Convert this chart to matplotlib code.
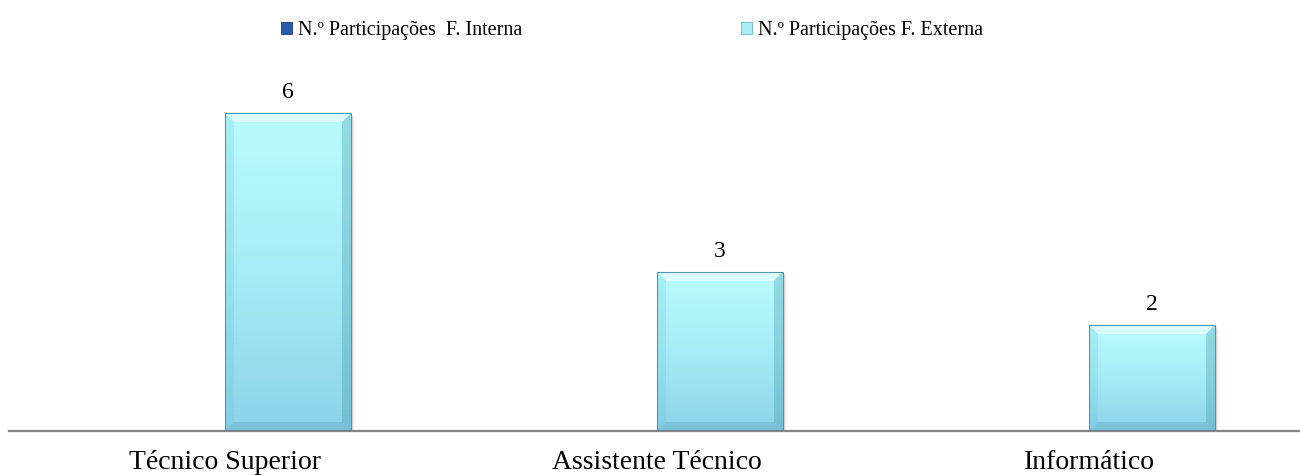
import numpy as np
import matplotlib
matplotlib.use("Agg")
import matplotlib.pyplot as plt
from matplotlib.patches import Patch, Polygon, Rectangle
from matplotlib.colors import LinearSegmentedColormap

categories = ["Técnico Superior", "Assistente Técnico", "Informático"]
internal = [0, 0, 0]
external = [6, 3, 2]
series_names = ["N.º Participações  F. Interna", "N.º Participações F. Externa"]

plt.rcParams["font.family"] = ["Liberation Serif", "DejaVu Serif"]

W, H = 1300, 476
fig = plt.figure(figsize=(W / 100, H / 100), dpi=100)
ax = fig.add_axes([9 / W, 45 / H, 1291 / W, 371 / H])
ax.set_xlim(0, 1291 / 432)
ax.set_ylim(0, 7)

bar_w = 126 / 432
px_x = 1 / 432          # data units per pixel, horizontal
px_y = 7 / 371          # data units per pixel, vertical

grad = LinearSegmentedColormap.from_list("bar", ["#8ed4ea", "#a6ecf6", "#b8fcfe"])


def bevel_bar(x0, h):
    x1 = x0 + bar_w
    # soft drop shadow
    for k, a in enumerate([0.10, 0.07, 0.04]):
        ax.add_patch(Rectangle((x0 + (2 + k) * px_x, -(2 + k) * px_y), bar_w, h,
                               facecolor="#555555", alpha=a, lw=0, zorder=1))
    img = np.linspace(0, 1, 64).reshape(-1, 1)
    ax.imshow(img, cmap=grad, origin="lower", aspect="auto",
              extent=(x0, x1, 0, h), zorder=2, interpolation="bilinear")
    bx, by = 9 * px_x, 9 * px_y
    # top highlight
    ax.add_patch(Polygon([(x0, h), (x1, h), (x1 - bx, h - by), (x0 + bx, h - by)],
                         closed=True, facecolor="white", alpha=0.5, lw=0, zorder=3))
    # right shade
    ax.add_patch(Polygon([(x1, h), (x1, 0), (x1 - bx, by), (x1 - bx, h - by)],
                         closed=True, facecolor="#3c8fa8", alpha=0.3, lw=0, zorder=3))
    # left shade
    ax.add_patch(Polygon([(x0, h), (x0, 0), (x0 + bx, by), (x0 + bx, h - by)],
                         closed=True, facecolor="#5fb3cc", alpha=0.18, lw=0, zorder=3))
    # bottom shade
    ax.add_patch(Polygon([(x0, 0), (x1, 0), (x1 - bx, by), (x0 + bx, by)],
                         closed=True, facecolor="#3c8fa8", alpha=0.25, lw=0, zorder=3))
    ax.add_patch(Rectangle((x0, 0), bar_w, h, facecolor="none",
                           edgecolor="#5596aa", lw=0.8, zorder=4))


centers = np.arange(len(categories)) + 0.5
for c, vi, ve in zip(centers, internal, external):
    if vi > 0:
        bevel_bar(c - bar_w, vi)
    if ve > 0:
        bevel_bar(c, ve)
        ax.annotate(str(ve), (c + bar_w / 2, ve), xytext=(0, 10),
                    textcoords="offset pixels", ha="center", va="bottom",
                    fontsize=17, color="black")

ax.set_xticks(centers)
ax.set_xticklabels(categories, fontsize=20)
ax.tick_params(axis="x", length=0, pad=14)
ax.set_yticks([])
for s in ["top", "right", "left"]:
    ax.spines[s].set_visible(False)
ax.spines["bottom"].set_color("#868686")
ax.spines["bottom"].set_linewidth(1.6)
ax.patch.set_alpha(0)

handles = [Patch(facecolor="#2a5cad", edgecolor="#1b3f7a", lw=0.6),
           Patch(facecolor="#a8eef8", edgecolor="#6fb5c9", lw=0.6)]
for hnd, name, xpx in zip(handles, series_names, [281, 741]):
    leg = fig.legend([hnd], [name], loc="center left",
                     bbox_to_anchor=(xpx / W, 1 - 31 / H),
                     frameon=False, fontsize=14.5, handlelength=0.55, handleheight=0.55,
                     handletextpad=0.3, borderpad=0, borderaxespad=0)

fig.savefig("out.png", dpi=100)
